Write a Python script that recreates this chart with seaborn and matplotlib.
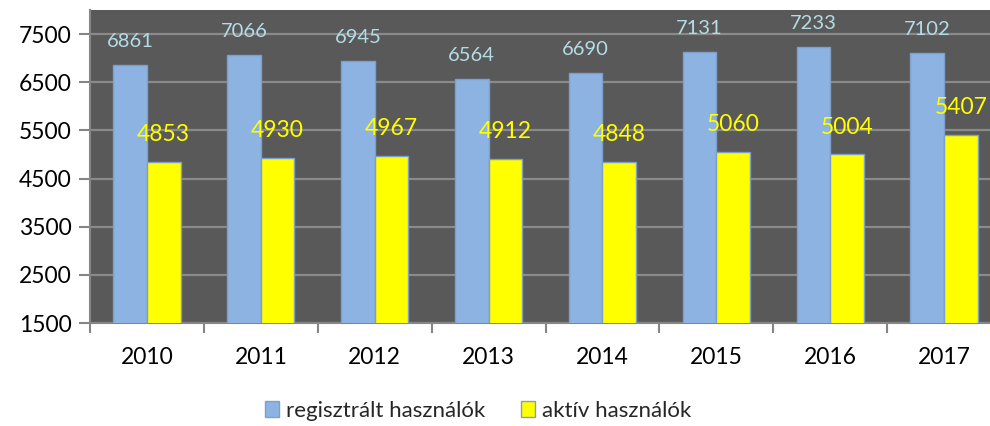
import matplotlib
matplotlib.use("Agg")
import matplotlib.pyplot as plt
import seaborn as sns
import pandas as pd

years = ["2010", "2011", "2012", "2013", "2014", "2015", "2016", "2017"]
registered = [6861, 7066, 6945, 6564, 6690, 7131, 7233, 7102]
active = [4853, 4930, 4967, 4912, 4848, 5060, 5004, 5407]
series_names = ["regisztrált használók", "aktív használók"]
y_ticks = [1500, 2500, 3500, 4500, 5500, 6500, 7500]

df = pd.DataFrame({
    "year": years * 2,
    "value": registered + active,
    "series": [series_names[0]] * len(years) + [series_names[1]] * len(years),
})

sns.set_theme(style="white")
plt.rcParams["font.family"] = ["Lato", "DejaVu Sans"]

fig = plt.figure(figsize=(9.9, 4.26), dpi=100)
ax = fig.add_axes([90 / 990, (426 - 323) / 426, 911 / 990, 313 / 426])
ax.set_facecolor("#595959")

palette = {series_names[0]: "#8DB3E2", series_names[1]: "#FFFF00"}
sns.barplot(data=df, x="year", y="value", hue="series", palette=palette,
            width=0.59, edgecolor="#7F9FCB", linewidth=1.0, saturation=1,
            ax=ax, zorder=3, legend=True)

ax.set_ylim(1500, 8000)
ax.set_yticks(y_ticks)
ax.set_xlabel("")
ax.set_ylabel("")
ax.yaxis.grid(True, color="#8A8A8A", linewidth=1.6, zorder=0)
ax.set_axisbelow(True)

for s in ["top", "right"]:
    ax.spines[s].set_visible(False)
for s in ["left", "bottom"]:
    ax.spines[s].set_color("#868686")
    ax.spines[s].set_linewidth(1.5)

ax.tick_params(axis="y", which="both", left=True, length=8, width=1.5,
               color="#868686", labelsize=16.5, labelcolor="black", pad=5)
# x ticks at category boundaries
ax.set_xticks(range(len(years)))
ax.set_xticklabels(years)
ax.tick_params(axis="x", which="major", length=0, labelsize=16.5,
               labelcolor="black", pad=17)
ax.set_xticks([i - 0.5 for i in range(len(years) + 1)], minor=True)
ax.tick_params(axis="x", which="minor", bottom=True, length=7, width=1.5,
               color="#868686")
ax.set_xlim(-0.5, len(years) - 0.5)

containers = ax.containers
ax.bar_label(containers[0], labels=[str(v) for v in registered],
             padding=11, color="#B4DCE6", fontsize=14.5, zorder=4)
ax.bar_label(containers[1], labels=[str(v) for v in active],
             padding=12, color="#FFFF00", fontsize=16.5, zorder=4)

leg = ax.legend(loc="upper center", bbox_to_anchor=((478 - 90) / 911, -0.22),
                ncol=2, frameon=False, fontsize=16, handlelength=0.65,
                handleheight=0.7, handletextpad=0.3, columnspacing=1.6,
                borderaxespad=0)
for h in leg.legend_handles:
    h.set_edgecolor("#7F9FCB")

fig.savefig("out.png", dpi=100, facecolor="white")
